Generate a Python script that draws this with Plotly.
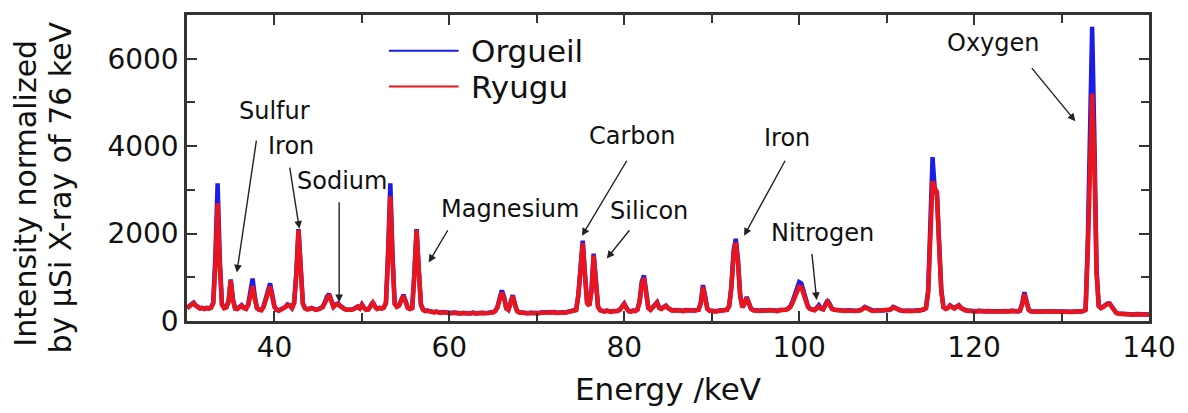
import plotly.graph_objects as go

# ---------------- data ----------------
E_START = 30.0   # keV, first channel
E_STEP = 0.25    # keV, channel width

orgueil = [
    300, 340, 400, 420, 360, 310, 290, 300, 280, 300, 290, 310, 420, 1500, 3150, 1400, 380, 300, 320, 450,
    950, 500, 290, 280, 330, 360, 300, 280, 380, 650, 970, 560, 300, 260, 250, 330, 500, 760, 860, 600,
    330, 260, 240, 270, 290, 320, 380, 360, 300, 420, 1100, 2100, 1250, 400, 290, 270, 280, 300, 280, 260,
    270, 290, 320, 420, 560, 620, 480, 330, 380, 400, 350, 300, 280, 260, 250, 260, 270, 300, 330, 290,
    380, 300, 260, 270, 360, 430, 330, 280, 300, 290, 310, 420, 1600, 3150, 1500, 400, 330, 360, 480, 600,
    450, 300, 280, 300, 1100, 2100, 1200, 380, 260, 230, 240, 220, 210, 200, 215, 200, 190, 205, 195, 190,
    200, 185, 195, 180, 190, 175, 185, 195, 180, 170, 185, 190, 175, 185, 180, 190, 185, 175, 190, 200,
    200, 230, 320, 520, 700, 560, 300, 260, 420, 590, 380, 230, 200, 190, 185, 195, 180, 190, 185, 180,
    190, 185, 195, 200, 190, 210, 195, 200, 205, 190, 200, 210, 200, 195, 205, 210, 220, 230, 260, 600,
    1300, 1840, 1100, 420, 360, 700, 1540, 900, 330, 250, 230, 220, 240, 225, 215, 230, 220, 235, 260, 320,
    400, 300, 230, 220, 240, 230, 260, 450, 900, 1040, 600, 300, 260, 320, 400, 430, 300, 280, 320, 350,
    300, 260, 240, 250, 235, 245, 240, 230, 250, 240, 235, 245, 240, 250, 260, 420, 820, 560, 280, 240,
    230, 240, 225, 235, 245, 230, 240, 260, 350, 800, 1600, 1880, 1400, 600, 320, 400, 550, 420, 280, 250,
    240, 250, 235, 245, 230, 240, 250, 235, 245, 240, 230, 250, 245, 250, 260, 290, 340, 450, 600, 780,
    890, 860, 680, 480, 340, 280, 260, 250, 300, 360, 290, 270, 380, 470, 380, 280, 260, 250, 240, 250,
    240, 235, 245, 230, 240, 235, 225, 240, 250, 270, 320, 300, 260, 245, 235, 240, 230, 245, 240, 235,
    240, 250, 270, 320, 300, 260, 245, 240, 235, 245, 240, 230, 240, 235, 245, 240, 250, 260, 300, 700,
    2000, 3750, 3000, 2900, 1800, 700, 320, 280, 300, 360, 320, 290, 330, 360, 300, 260, 250, 240, 230, 240,
    230, 225, 235, 220, 230, 225, 215, 230, 225, 220, 230, 225, 215, 225, 230, 220, 225, 235, 220, 230,
    220, 240, 400, 660, 450, 260, 220, 215, 225, 220, 210, 220, 215, 225, 220, 210, 215, 220, 210, 215,
    215, 210, 220, 215, 205, 210, 220, 215, 210, 220, 230, 260, 1800, 4500, 6730, 4200, 1200, 350, 300, 330,
    380, 400, 400, 330, 240, 190, 170, 165, 160, 170, 155, 160, 165, 150, 160, 155, 150, 160, 155, 150,
    150,
]

ryugu = [
    290, 330, 390, 410, 350, 300, 285, 295, 275, 295, 285, 305, 400, 1300, 2700, 1250, 370, 295, 310, 440,
    930, 480, 285, 275, 320, 350, 295, 275, 360, 560, 800, 500, 295, 255, 245, 320, 470, 700, 790, 560,
    320, 255, 235, 265, 285, 315, 370, 350, 295, 410, 1050, 2080, 1200, 390, 285, 265, 275, 295, 275, 255,
    265, 285, 315, 410, 540, 600, 460, 320, 370, 390, 340, 295, 275, 255, 245, 255, 265, 295, 320, 285,
    370, 295, 255, 265, 350, 420, 325, 275, 295, 285, 305, 410, 1500, 2850, 1400, 390, 325, 350, 470, 580,
    440, 295, 275, 295, 1050, 2080, 1150, 370, 255, 225, 235, 215, 205, 195, 210, 195, 185, 200, 190, 185,
    195, 180, 190, 175, 185, 170, 180, 190, 175, 165, 180, 185, 170, 180, 175, 185, 180, 170, 185, 195,
    195, 225, 310, 490, 650, 530, 290, 255, 400, 570, 370, 225, 195, 185, 180, 190, 175, 185, 180, 175,
    185, 180, 190, 195, 185, 205, 190, 195, 200, 185, 195, 205, 195, 190, 200, 205, 215, 225, 250, 580,
    1250, 1780, 1050, 410, 350, 680, 1500, 870, 320, 245, 225, 215, 235, 220, 210, 225, 215, 230, 255, 310,
    390, 295, 225, 215, 235, 225, 255, 430, 850, 980, 570, 295, 255, 310, 390, 420, 295, 275, 310, 340,
    295, 255, 235, 245, 230, 240, 235, 225, 245, 235, 230, 240, 235, 245, 255, 400, 780, 530, 275, 235,
    225, 235, 220, 230, 240, 225, 235, 255, 340, 760, 1530, 1800, 1350, 580, 315, 390, 530, 400, 275, 245,
    235, 245, 230, 240, 225, 235, 245, 230, 240, 235, 225, 245, 240, 245, 255, 280, 320, 420, 550, 700,
    780, 770, 620, 450, 320, 275, 255, 245, 285, 330, 280, 265, 360, 440, 360, 275, 255, 245, 235, 245,
    235, 230, 240, 225, 235, 230, 220, 235, 245, 265, 310, 290, 255, 240, 230, 235, 225, 240, 235, 230,
    235, 245, 265, 310, 290, 255, 240, 235, 230, 240, 235, 225, 235, 230, 240, 235, 245, 255, 290, 650,
    1800, 3200, 3050, 2950, 1750, 680, 310, 275, 295, 350, 310, 285, 320, 350, 295, 255, 245, 235, 225, 235,
    225, 220, 230, 215, 225, 220, 210, 225, 220, 215, 225, 220, 210, 220, 225, 215, 220, 230, 215, 225,
    215, 235, 380, 620, 430, 255, 215, 210, 220, 215, 205, 215, 210, 220, 215, 205, 210, 215, 205, 210,
    210, 205, 215, 210, 200, 205, 215, 210, 205, 215, 225, 255, 1600, 4000, 5200, 3700, 1100, 340, 295, 320,
    370, 390, 390, 320, 235, 185, 165, 160, 155, 165, 150, 155, 160, 145, 155, 150, 145, 155, 150, 145,
    145,
]

assert len(orgueil) == len(ryugu)
energy = [E_START + E_STEP * i for i in range(len(orgueil))]

series_names = ["Orgueil", "Ryugu"]

x_tickvals = [40, 60, 80, 100, 120, 140]
x_minor_tickvals = [30, 50, 70, 90, 110, 130]
y_tickvals = [0, 2000, 4000, 6000]
y_minor_tickvals = [1000, 3000, 5000, 7000]

# element labels: (text, x keV, y intensity)
labels = [
    ("Sulfur", 40.0, 4800),
    ("Iron", 41.85, 4000),
    ("Sodium", 47.75, 3200),
    ("Magnesium", 66.9, 2570),
    ("Carbon", 80.85, 4230),
    ("Silicon", 82.8, 2520),
    ("Iron", 98.6, 4180),
    ("Nitrogen", 102.7, 2020),
    ("Oxygen", 122.25, 6360),
]
# arrows: (tail x, tail y, head x, head y)
arrows = [
    (37.96, 4160, 35.7, 1110),
    (41.72, 3545, 42.85, 2110),
    (47.4, 2750, 47.4, 430),
    (59.92, 2110, 57.64, 1340),
    (80.39, 3700, 75.16, 1950),
    (80.73, 2110, 78.0, 1430),
    (98.48, 3700, 93.7, 1950),
    (101.44, 1570, 102.0, 480),
    (126.46, 5820, 131.58, 4570),
]

# ---------------- figure ----------------
FONT = "DejaVu Sans"
BLUE = "#1c1ce8"
RED = "#e8141e"
AX = "#333333"

fig = go.Figure()
fig.add_trace(go.Scatter(x=energy, y=orgueil, mode="lines", name=series_names[0],
                         line=dict(color=BLUE, width=4.5), showlegend=False))
fig.add_trace(go.Scatter(x=energy, y=ryugu, mode="lines", name=series_names[1],
                         line=dict(color=RED, width=4.5), showlegend=False))

W, H = 1188, 413
L, R, T, B = 187, 34, 13, 92
pw, ph = W - L - R, H - T - B


def px(xp):
    return (xp - L) / pw


def py(yp):
    return (H - B - yp) / ph


annotations = []
for text, x, y in labels:
    annotations.append(dict(x=x, y=y, xref="x", yref="y", text=text, showarrow=False,
                            xanchor="center", yanchor="middle",
                            font=dict(family=FONT, size=24, color="#111")))
for tx, ty, hx, hy in arrows:
    annotations.append(dict(x=hx, y=hy, ax=tx, ay=ty, xref="x", yref="y", axref="x", ayref="y",
                            text="", showarrow=True, arrowhead=2, arrowsize=1.1,
                            arrowwidth=1.4, arrowcolor="#222", standoff=0, startstandoff=0))

# manual legend (long line samples like the reference)
legend_rows = [(series_names[0], BLUE, 49), (series_names[1], RED, 85)]
shapes = []
for name, col, yp in legend_rows:
    shapes.append(dict(type="line", xref="paper", yref="paper", x0=px(390), x1=px(460),
                       y0=py(yp), y1=py(yp), line=dict(color=col, width=2)))
    annotations.append(dict(x=px(470), y=py(yp), xref="paper", yref="paper", text=name,
                            showarrow=False, xanchor="left", yanchor="middle",
                            font=dict(family=FONT, size=31, color="#111")))

# axis titles
annotations.append(dict(x=px(25), y=py(192), xref="paper", yref="paper",
                        text="Intensity normalized", textangle=-90, showarrow=False,
                        xanchor="center", yanchor="middle",
                        font=dict(family=FONT, size=30, color="#111")))
annotations.append(dict(x=px(60), y=py(187), xref="paper", yref="paper",
                        text="by μSi X-ray of 76 keV", textangle=-90, showarrow=False,
                        xanchor="center", yanchor="middle",
                        font=dict(family=FONT, size=30, color="#111")))
annotations.append(dict(x=0.5, y=py(389), xref="paper", yref="paper",
                        text="Energy /keV", showarrow=False,
                        xanchor="center", yanchor="middle",
                        font=dict(family=FONT, size=31, color="#111")))

axis_common = dict(showgrid=False, zeroline=False, showline=True, linewidth=2.5, linecolor=AX,
                   mirror="ticks", ticks="inside", ticklen=10, tickwidth=1.5, tickcolor=AX,
                   tickfont=dict(family=FONT, size=28, color="#111"))

fig.update_layout(
    width=W, height=H,
    margin=dict(l=L, r=R, t=T, b=B),
    paper_bgcolor="white", plot_bgcolor="white",
    showlegend=False,
    xaxis=dict(range=[30, 140], tickmode="array", tickvals=x_tickvals,
               minor=dict(tickvals=x_minor_tickvals, ticks="inside", ticklen=8,
                          tickwidth=1.5, tickcolor=AX, showgrid=False),
               **axis_common),
    yaxis=dict(range=[0, 7000], tickmode="array", tickvals=y_tickvals,
               minor=dict(tickvals=y_minor_tickvals, ticks="inside", ticklen=8,
                          tickwidth=1.5, tickcolor=AX, showgrid=False),
               **axis_common),
    annotations=annotations,
    shapes=shapes,
)

fig.write_html("out.html",
               config={"displayModeBar": False},
               post_script="document.body.style.margin='0px';document.body.style.overflow='hidden';")
